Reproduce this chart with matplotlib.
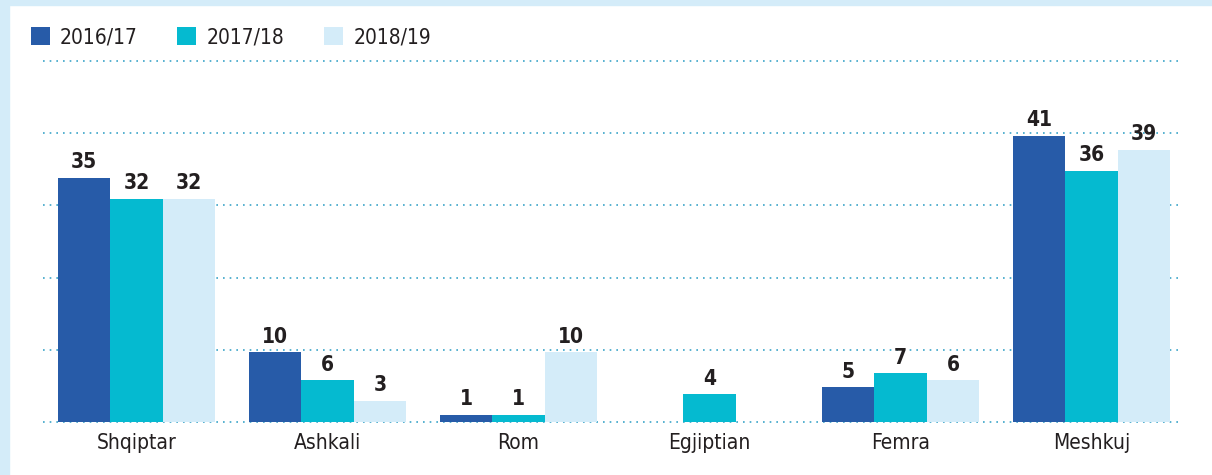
import numpy as np
import matplotlib.pyplot as plt
from matplotlib.patches import Rectangle

categories = ['Shqiptar', 'Ashkali', 'Rom', 'Egjiptian', 'Femra', 'Meshkuj']
series_names = ['2016/17', '2017/18', '2018/19']
vals_2016 = [35, 10, 1, 0, 5, 41]
vals_2017 = [32, 6, 1, 4, 7, 36]
vals_2018 = [32, 3, 10, 0, 6, 39]

colors = ['#275BA8', '#05BAD0', '#D4ECF9']
plt.rcParams['font.family'] = ['DejaVu Sans']
plt.rcParams['font.stretch'] = 'condensed'

fig = plt.figure(figsize=(12.12, 4.75), dpi=100)
# light blue frame on top and left
fig.patches.append(Rectangle((0, 0), 9 / 1212, 1, transform=fig.transFigure,
                             color='#D4ECF9', zorder=0))
fig.patches.append(Rectangle((0, 1 - 5 / 475), 1, 5 / 475, transform=fig.transFigure,
                             color='#D4ECF9', zorder=0))

ax = fig.add_axes([43 / 1212, 1 - 422 / 475, (1183 - 43) / 1212, (422 - 61) / 475])
x = np.arange(len(categories))
w = 0.275
for i, (vals, name) in enumerate(zip([vals_2016, vals_2017, vals_2018], series_names)):
    bars = ax.bar(x + (i - 1) * w, vals, w, color=colors[i], label=name, zorder=3)
    labels = [str(v) if v else '' for v in vals]
    ax.bar_label(bars, labels=labels, padding=4, fontsize=15, fontweight='bold',
                 color='#231F20', zorder=4)

ax.set_xlim(-0.49, 5.48)
ax.set_ylim(0, 51.7)
for g in np.linspace(0, 51.7, 6):
    ax.axhline(g, color='#3BA4C8', linestyle=(0, (1, 3)), linewidth=1.2,
               zorder=1, clip_on=False)

ax.set_xticks(x)
ax.set_xticklabels(categories, fontsize=15, color='#231F20')
ax.tick_params(axis='x', length=0, pad=8)
ax.set_yticks([])
for s in ax.spines.values():
    s.set_visible(False)

fig.legend(loc='upper left', bbox_to_anchor=(0.010, 0.982), ncol=3, frameon=False,
           fontsize=15, handlelength=0.9, handleheight=0.9, handletextpad=0.5,
           columnspacing=1.9, labelcolor='#231F20')

fig.savefig('out.png', dpi=100)
